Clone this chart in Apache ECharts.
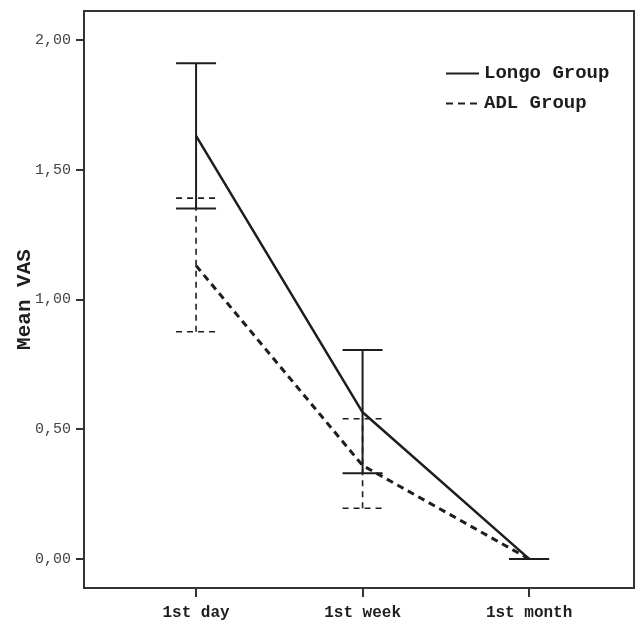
<!DOCTYPE html>
<html>
<head>
<meta charset="utf-8">
<script src="https://cdn.jsdelivr.net/npm/echarts@6/dist/echarts.min.js"></script>
<style>
  html, body { margin: 0; padding: 0; background: #fff; }
  #chart { width: 641px; height: 621px; }
</style>
</head>
<body>
<div id="chart"></div>
<script>
const categories = ['1st day', '1st week', '1st month']
const yTicks = [0, 0.5, 1, 1.5, 2]

const longoMean = [1.63, 0.565, 0]
const longoLow = [1.35, 0.33, 0]
const longoHigh = [1.91, 0.805, 0]

const adlMean = [1.13, 0.36, 0]
const adlLow = [0.875, 0.195, 0]
const adlHigh = [1.39, 0.54, 0]

const ink = '#1e1e1e'
const mono = '"Liberation Mono", "DejaVu Sans Mono", monospace'

function points(values) {
  return values.map((v, i) => [i, v])
}

function bars(low, high) {
  return low.map((v, i) => [i, v, high[i]])
}

function errorBar(width, dash) {
  return function (params, api) {
    const x = api.value(0)
    const lo = api.coord([x, api.value(1)])
    const hi = api.coord([x, api.value(2)])
    const half = 20
    const style = { stroke: ink, lineWidth: width, lineDash: dash, fill: null }
    return {
      type: 'group',
      children: [
        { type: 'line', shape: { x1: lo[0], y1: lo[1], x2: hi[0], y2: hi[1] }, style },
        { type: 'line', shape: { x1: hi[0] - half, y1: hi[1], x2: hi[0] + half, y2: hi[1] }, style },
        { type: 'line', shape: { x1: lo[0] - half, y1: lo[1], x2: lo[0] + half, y2: lo[1] }, style },
      ],
    }
  }
}

const chart = echarts.init(document.getElementById('chart'))

chart.setOption({
  backgroundColor: '#fff',
  animation: false,
  grid: {
    left: 84, right: 7, top: 11, bottom: 33,
    outerBoundsMode: 'none',
    containLabel: false,
    show: true, borderColor: '#333', borderWidth: 2, backgroundColor: '#fff',
  },
  legend: {
    left: 445,
    top: 64,
    padding: 0,
    orient: 'vertical',
    itemWidth: 33,
    itemHeight: 14,
    itemGap: 11,
    data: ['Longo Group', 'ADL Group'],
    itemStyle: { opacity: 0 },
    textStyle: { color: ink, fontFamily: mono, fontWeight: 'bold', fontSize: 19 },
  },
  xAxis: {
    type: 'value',
    min: -0.673,
    max: 2.63,
    splitLine: { show: false },
    axisLine: { show: false, onZero: false },
    axisTick: { show: true, length: 9, customValues: [0, 1, 2], lineStyle: { color: '#333', width: 2 } },
    axisLabel: {
      customValues: [0, 1, 2],
      margin: 17,
      color: ink,
      fontFamily: mono,
      fontWeight: 'bold',
      fontSize: 16,
      formatter: (v) => categories[Math.round(v)] || '',
    },
  },
  yAxis: {
    type: 'value',
    min: -0.112,
    max: 2.111,
    name: 'Mean VAS',
    nameLocation: 'middle',
    nameRotate: 90,
    nameGap: 49,
    nameMoveOverlap: false,
    nameTextStyle: { color: ink, fontFamily: mono, fontWeight: 'bold', fontSize: 21 },
    splitLine: { show: false },
    axisLine: { show: false, onZero: false },
    axisTick: { show: true, length: 8, customValues: yTicks, lineStyle: { color: '#333', width: 2 } },
    axisLabel: {
      customValues: yTicks,
      margin: 13,
      color: '#444',
      fontFamily: mono,
      fontSize: 15,
      formatter: (v) => v.toFixed(2).replace('.', ','),
    },
  },
  series: [
    {
      name: 'Longo Group',
      type: 'line',
      data: points(longoMean),
      symbol: 'none',
      lineStyle: { color: ink, width: 2.5 },
      itemStyle: { color: ink },
      z: 3,
    },
    {
      name: 'ADL Group',
      type: 'line',
      data: points(adlMean),
      symbol: 'none',
      lineStyle: { color: ink, width: 3, type: [7, 5] },
      itemStyle: { color: ink },
      z: 3,
    },
    {
      type: 'custom',
      data: bars(longoLow, longoHigh),
      renderItem: errorBar(2, null),
      z: 2,
    },
    {
      type: 'custom',
      data: bars(adlLow, adlHigh),
      renderItem: errorBar(1.6, [6, 5]),
      z: 2,
    },
  ],
})
</script>
</body>
</html>
